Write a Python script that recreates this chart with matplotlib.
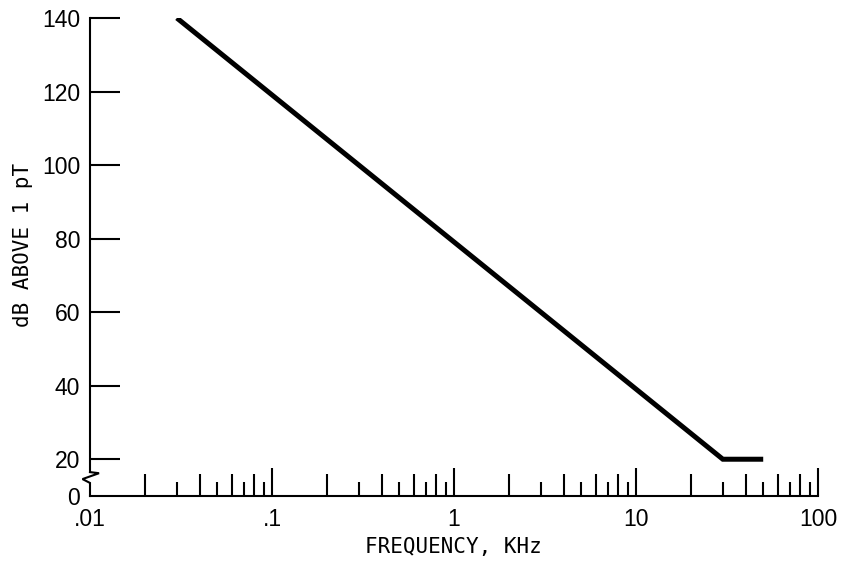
import numpy as np
import matplotlib
matplotlib.use("Agg")
import matplotlib.pyplot as plt
from matplotlib import font_manager
from matplotlib.ticker import FixedLocator, FixedFormatter, NullFormatter
from matplotlib.transforms import blended_transform_factory

# ---- data ----
freq_khz = [0.03, 30, 50]
level_db = [140, 20, 20]

x_major = [0.1, 1, 10, 100]
x_major_labels = [".1", "1", "10", "100"]
y_major = [20, 40, 60, 80, 100, 120, 140]
y_major_labels = ["20", "40", "60", "80", "100", "120", "140"]
decades = [0.01, 0.1, 1, 10]
long_minor_mult = [2, 4, 6, 8]
short_minor_mult = [3, 5, 7, 9]

x_label = "FREQUENCY, KHz"
y_label = "dB ABOVE 1 pT"

# ---- fonts ----
names = {f.name for f in font_manager.fontManager.ttflist}
tick_family = ["Liberation Sans Narrow"] if "Liberation Sans Narrow" in names else ["Liberation Sans"]
tick_family = tick_family + ["DejaVu Sans"]
label_family = ["DejaVu Sans Mono", "DejaVu Sans"]

# ---- broken y scale: 0..20 compressed to half ----
def fwd(y):
    y = np.asarray(y, dtype=float)
    return np.where(y < 20, 10 + y / 2.0, y)

def inv(y):
    y = np.asarray(y, dtype=float)
    return np.where(y < 20, (y - 10) * 2.0, y)

fig = plt.figure(figsize=(8.41, 5.63), dpi=100)
ax = fig.add_axes([90 / 841, 1 - 496 / 563, 728 / 841, 478 / 563])
ax.set_xscale("log")
ax.set_yscale("function", functions=(fwd, inv))
ax.set_xlim(0.01, 100)
ax.set_ylim(0, 140)

ax.plot(freq_khz, level_db, color="black", lw=3.6, solid_capstyle="butt",
        solid_joinstyle="miter")

for s in ["top", "right"]:
    ax.spines[s].set_visible(False)
ax.spines["left"].set_linewidth(1.5)
ax.spines["bottom"].set_linewidth(1.5)
ax.spines["left"].set_bounds(13, 140)

# axis break zigzag + lower spine segment
tr = blended_transform_factory(ax.transAxes, ax.transData)
bx = [0, 0.0124, -0.0103, 0, 0]
by = [13.0, 12.4, 9.2, 7.1, 0]
ax.plot(bx, by, color="black", lw=1.5, transform=tr, clip_on=False,
        solid_joinstyle="miter")

# x ticks
ax.xaxis.set_major_locator(FixedLocator(x_major))
ax.xaxis.set_major_formatter(FixedFormatter(x_major_labels))
long_minor = [d * m for d in decades for m in long_minor_mult]
ax.xaxis.set_minor_locator(FixedLocator(long_minor))
ax.xaxis.set_minor_formatter(NullFormatter())
ax.tick_params(axis="x", which="major", direction="in", length=20, width=1.5,
               pad=9, labelsize=16.5)
ax.tick_params(axis="x", which="minor", direction="in", length=15.5, width=1.5)

sec = ax.secondary_xaxis("bottom")
short_minor = [d * m for d in decades for m in short_minor_mult]
sec.xaxis.set_major_locator(FixedLocator(short_minor))
sec.xaxis.set_major_formatter(NullFormatter())
sec.xaxis.set_minor_locator(FixedLocator([0.01]))
sec.xaxis.set_minor_formatter(FixedFormatter([".01"]))
sec.tick_params(axis="x", which="major", direction="in", length=10, width=1.5)
sec.tick_params(axis="x", which="minor", direction="in", length=0, pad=9,
                labelsize=16.5)
sec.spines["bottom"].set_visible(False)
for lab in sec.xaxis.get_minorticklabels():
    lab.set_family(tick_family)

# y ticks
ax.yaxis.set_major_locator(FixedLocator(y_major))
ax.yaxis.set_major_formatter(FixedFormatter(y_major_labels))
ax.yaxis.set_minor_locator(FixedLocator([0]))
ax.yaxis.set_minor_formatter(FixedFormatter(["0"]))
ax.tick_params(axis="y", which="major", direction="in", length=21.5, width=1.5,
               pad=7, labelsize=16.5)
ax.tick_params(axis="y", which="minor", direction="in", length=0, pad=7,
               labelsize=16.5)

for lab in ax.get_xticklabels() + ax.get_yticklabels() + ax.yaxis.get_minorticklabels():
    lab.set_family(tick_family)

ax.set_xlabel(x_label, family=label_family, fontsize=15)
ax.set_ylabel(y_label, family=label_family, fontsize=15)
ax.xaxis.set_label_coords((453 - 90) / 728, (496 - 537) / 478)
ax.yaxis.set_label_coords((33 - 90) / 728, (496 - 245) / 478)

fig.savefig("out.png", dpi=100, facecolor="white")
